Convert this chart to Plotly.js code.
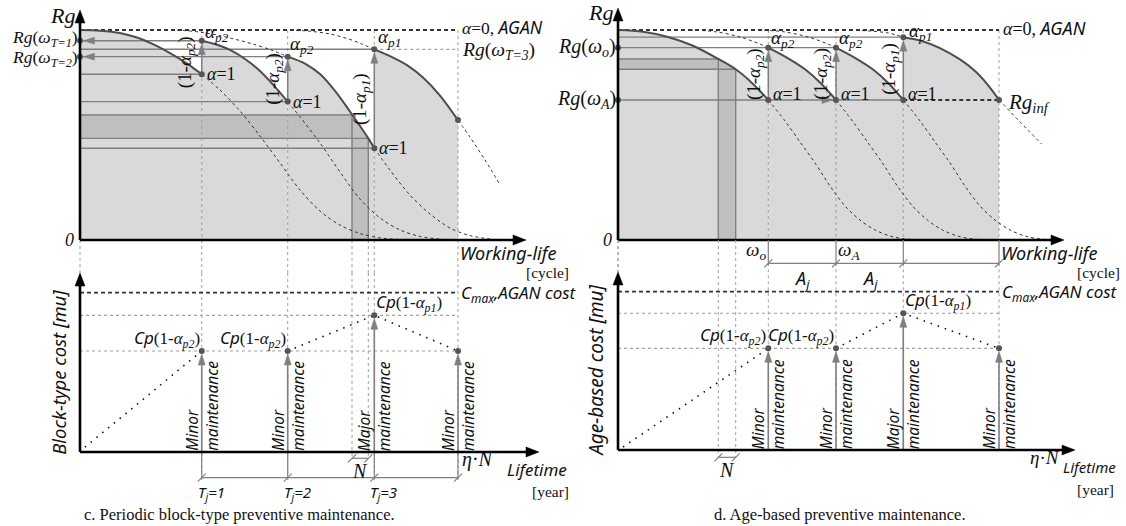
<!DOCTYPE html>
<html><head><meta charset="utf-8">
<script src="https://cdn.plot.ly/plotly-3.0.1.min.js"></script>
<style>html,body{margin:0;padding:0;background:#fff;}#chart{width:1126px;height:526px;}</style>
</head><body><div id="chart"></div>
<script>
// ================= DATA =================
// Panel c: periodic block-type.  Working-life units: 0 = origin, 100 = eta*N.  Rg: 0..1 (AGAN = 1).  Cost: 0..1 (Cmax = 1)
const cT = [32.2, 54.95, 77.86, 100];             // T_j=1, T_j=2, T_j=3, eta*N
const cKind = ['Minor', 'Minor', 'Major', 'Minor'];
const cTlabel = ['T<sub>j</sub>=1', 'T<sub>j</sub>=2', 'T<sub>j</sub>=3'];
const cN = [71.96, 76.27];
const cS1x = [0, 5.29, 10.58, 15.08, 19.31, 23.81, 28.23, 32.2];
const cS1y = [1.0, 0.997, 0.986, 0.964, 0.933, 0.890, 0.841, 0.789];
const cS2x = [32.2, 35.71, 39.68, 43.65, 47.62, 51.06, 54.95];
const cS2y = [0.949, 0.933, 0.905, 0.862, 0.805, 0.740, 0.659];
const cS3x = [54.95, 59.52, 63.49, 67.46, 71.88, 76.27, 77.86];
const cS3y = [0.873, 0.840, 0.790, 0.710, 0.600, 0.484, 0.437];
const cS4x = [77.86, 82.01, 86.51, 90.74, 95.24, 100];
const cS4y = [0.908, 0.876, 0.833, 0.774, 0.688, 0.571];
const cH3x = [25.66, 31.75, 37.04, 42.33, 45.77, 50.26, 54.95];
const cH3y = [1.0, 0.990, 0.973, 0.950, 0.933, 0.907, 0.873];
const cH4x = [55.56, 60.85, 66.14, 71.43, 74.60, 77.86];
const cH4y = [1.0, 0.994, 0.981, 0.955, 0.933, 0.908];
const cD1x = [32.2, 37.04, 42.33, 47.62, 52.91, 58.20, 63.49, 68.78, 74.07, 79.37, 84.66];
const cD1y = [0.789, 0.714, 0.614, 0.495, 0.367, 0.238, 0.138, 0.071, 0.031, 0.010, 0.002];
const cD2x = [54.95, 58.20, 63.49, 68.78, 74.07, 79.37, 84.66, 89.95, 96.56];
const cD2y = [0.659, 0.586, 0.462, 0.324, 0.195, 0.105, 0.048, 0.017, 0.002];
const cD3x = [77.86, 82.01, 87.30, 92.59, 97.88, 103.17, 109.79];
const cD3y = [0.437, 0.333, 0.214, 0.124, 0.057, 0.021, 0.002];
const cD4x = [100, 103.17, 107.14, 111.11];
const cD4y = [0.571, 0.490, 0.381, 0.262];
const cAlphaP = [0.949, 0.873, 0.908];          // Rg after maintenance at T1,T2,T3
const cAlpha1 = [0.789, 0.659, 0.437];          // Rg before maintenance at T1,T2,T3
const cRgEnd = 0.571;
const cBand = [0.484, 0.595];
const cCost = [0.634, 0.634, 0.858, 0.634];
const cCostPathAx = [1.3, 32.2], cCostPathAy = [0.03, 0.634];
const cCostPathBx = [54.95, 77.86, 100], cCostPathBy = [0.634, 0.858, 0.634];
const cLevels = [0.858, 0.634];

// Panel d: age-based
const dT = [39.45, 57.22, 74.88, 100];
const dKind = ['Minor', 'Minor', 'Major', 'Minor'];
const dN = [26.33, 30.89];
const dSAx = [0, 6.56, 13.12, 19.69, 26.33, 30.89, 35.17, 39.45];
const dSAy = [1.0, 0.992, 0.967, 0.925, 0.862, 0.813, 0.748, 0.667];
const dSBx = [39.45, 44.75, 49.08, 53.15, 57.22];
const dSBy = [0.916, 0.864, 0.813, 0.748, 0.667];
const dSCx = [57.22, 62.52, 66.85, 70.92, 74.88];
const dSCy = [0.916, 0.864, 0.813, 0.748, 0.667];
const dSDx = [74.88, 79.27, 84.51, 89.76, 93.70, 97.11, 100];
const dSDy = [0.966, 0.950, 0.914, 0.860, 0.805, 0.738, 0.667];
const dHBx = [18.90, 25.46, 32.02, 37.27, 39.45];
const dHBy = [1.0, 0.992, 0.967, 0.933, 0.916];
const dHCx = [36.75, 43.31, 49.87, 55.12, 57.22];
const dHCy = [1.0, 0.992, 0.967, 0.933, 0.916];
const dHDx = [60.89, 66.14, 70.87, 74.88];
const dHDy = [1.0, 0.995, 0.986, 0.966];
const dDAx = [39.45, 43.83, 47.77, 51.71, 55.64, 59.58, 63.52, 67.45, 71.39, 75.33, 80.58];
const dDAy = [0.667, 0.567, 0.467, 0.367, 0.257, 0.162, 0.095, 0.048, 0.019, 0.005, 0.001];
const dDBx = [57.22, 61.52, 65.46, 69.40, 73.33, 77.27, 81.21, 85.14, 89.08, 93.02, 98.27];
const dDBy = [0.667, 0.567, 0.467, 0.367, 0.257, 0.162, 0.095, 0.048, 0.019, 0.005, 0.001];
const dDCx = [74.88, 79.27, 83.20, 87.14, 91.08, 95.01, 98.95, 102.89, 106.82, 110.76, 116.01];
const dDCy = [0.667, 0.567, 0.467, 0.367, 0.257, 0.162, 0.095, 0.048, 0.019, 0.005, 0.001];
const dDDx = [100, 105.51, 111.20];
const dDDy = [0.667, 0.562, 0.457];
const dAlphaP = [0.916, 0.916, 0.966];
const dRgA = 0.667;                              // Rg(omega_A) = Rg_inf level
const dBand = [0.813, 0.862];
const dCost = [0.642, 0.642, 0.864, 0.642];
const dCostPathAx = [1.31, 39.45], dCostPathAy = [0.019, 0.642];
const dCostPathBx = [57.22, 74.88, 100], dCostPathBy = [0.642, 0.864, 0.642];
const dLevels = [0.864, 0.642];

// ================= GEOMETRY (layout only) =================
const W = 1126, H = 526;
const G = {
  cx: {p0: 80, s: 3.78}, dx: {p0: 618, s: 3.81},
  rg: {p0: 240, s: 210}, cc: {p0: 452, s: 159.3}, dc: {p0: 450, s: 158.3}
};
const xr = g => [-g.p0 / g.s, (W - g.p0) / g.s];
const yr = g => [-(H - g.p0) / g.s, g.p0 / g.s];
const yAt = (g, py) => (g.p0 - py) / g.s;
const xAt = (g, px) => (px - g.p0) / g.s;

const LIGHT = '#d9d9d9', DARK = '#bfbfbf', GRAY = '#7f7f7f', GUIDE = '#a0a0a0', CURVE = '#4d4d4d', DOT = '#555555';
const SERIF = 'Liberation Serif', SANS = 'Noto Sans';

// ================= HELPERS =================
const traces = [];
function add(t) { traces.push(Object.assign({type: 'scatter', hoverinfo: 'skip', showlegend: false}, t)); }
function segs(xa, ya, list, line) {
  const x = [], y = [];
  list.forEach(s => { x.push(...s[0], null); y.push(...s[1], null); });
  add({xaxis: xa, yaxis: ya, mode: 'lines', x, y, line});
}
function curve(xa, ya, xs, ys, line) {
  add({xaxis: xa, yaxis: ya, mode: 'lines', x: xs, y: ys, line: Object.assign({shape: 'spline', smoothing: 0.9}, line)});
}
function fillUnder(xa, ya, xs, ys, color) {
  add({xaxis: xa, yaxis: ya, mode: 'lines', x: xs, y: ys, fill: 'tozeroy', fillcolor: color,
       line: {width: 0, color: 'rgba(0,0,0,0)', shape: 'spline', smoothing: 0.9}});
}
function poly(xa, ya, xs, ys, color) {
  add({xaxis: xa, yaxis: ya, mode: 'lines', x: xs, y: ys, fill: 'toself', fillcolor: color, line: {width: 0, color}});
}
function heads(xa, ya, list, gx, gy, len, hw, color) {
  const x = [], y = [];
  list.forEach(([px, py, dir]) => {
    const L = len / gx.s, Lx = hw / gx.s, Ly = len / gy.s, Hy = hw / gy.s;
    if (dir === 'up') { x.push(px, px - Lx, px + Lx, px, null); y.push(py, py - Ly, py - Ly, py, null); }
    if (dir === 'left') { x.push(px, px + L, px + L, px, null); y.push(py, py + Hy, py - Hy, py, null); }
    if (dir === 'right') { x.push(px, px - L, px - L, px, null); y.push(py, py + Hy, py - Hy, py, null); }
  });
  add({xaxis: xa, yaxis: ya, mode: 'lines', x, y, fill: 'toself', fillcolor: color, line: {width: 0.5, color}});
}
function dots(xa, ya, xs, ys) {
  add({xaxis: xa, yaxis: ya, mode: 'markers', x: xs, y: ys, marker: {size: 6, color: DOT}});
}
function ticks(xa, ya, xs, ys) {
  add({xaxis: xa, yaxis: ya, mode: 'markers', x: xs, y: ys,
       marker: {symbol: 'line-ne', size: 8, line: {width: 1.2, color: GRAY}}});
}
function axes(xa, ya, gx, gy, yTopPx, xTipPx) {
  const yTip = yAt(gy, yTopPx), xTip = xAt(gx, xTipPx);
  segs(xa, ya, [[[0, 0], [0, yTip - 8 / gy.s]], [[0, xTip - 8 / gx.s], [0, 0]]], {color: '#000', width: 2.6});
  heads(xa, ya, [[0, yTip, 'up'], [xTip, 0, 'right']], gx, gy, 13, 5, '#000');
}
const anns = [];
function A(text, xref, yref, x, y, o) {
  const f = Object.assign({family: SERIF, size: 16, color: '#111'}, (o && o.font) || {});
  const a = Object.assign({text, xref, yref, x, y, showarrow: false, borderpad: 0, xanchor: 'center', yanchor: 'middle'}, o || {});
  a.font = f;
  anns.push(a);
}
const sans = t => `<span style="font-family:${SANS};font-style:italic">${t}</span>`;
const alpha = s => `<i>α<sub>${s}</sub></i>`;

// common bottom-right labels of a cost panel
function costLabels(xa, ya, gy, end, o) {
  A(sans('Working-life'), xa, ya, end, yAt(gy, 253), {xanchor: 'left', xshift: 1, font: {size: 18}});
  A('[cycle]', xa, ya, end, yAt(gy, 272.5), {xanchor: 'right', xshift: o.cycleR, font: {size: 15.5}});
  A(sans('C<sub>max</sub>,AGAN cost'), xa, ya, end, 1, {xanchor: 'left', xshift: 2, yshift: -1, font: {size: 17}});
  A('<i>η</i>·<i>N</i>', xa, ya, end, 0, {xanchor: 'left', xshift: o.etaX, yshift: -7, font: {size: o.etaSize}});
  A(sans('Lifetime'), xa, ya, end, 0, {xanchor: 'right', xshift: o.lifeR, yshift: -17, font: {size: o.lifeSize}});
  A('[year]', xa, ya, end, 0, {xanchor: 'right', xshift: o.yearR, yshift: -39, font: {size: 15.5}});
}

// ================= PANEL c — TOP =================
(function () {
  const xa = 'x', ya = 'y', gx = G.cx, gy = G.rg;
  [[cS1x, cS1y], [cS2x, cS2y], [cS3x, cS3y], [cS4x, cS4y]].forEach(s => fillUnder(xa, ya, s[0], s[1], LIGHT));
  poly(xa, ya, [0, cN[0], cN[0], 0], [cBand[0], cBand[0], cBand[1], cBand[1]], DARK);
  poly(xa, ya, [cN[0], cN[0], cN[1], cN[1]], [0, cBand[1], cBand[0], 0], DARK);
  const gapBottom = yAt(gy, 273);
  segs(xa, ya, cT.map(t => [[t, t], [1, gapBottom]]).concat(cN.map(t => [[t, t], [0, gapBottom]])).concat([[[0, 0], [0, gapBottom]]]),
       {color: GUIDE, width: 1, dash: 'dot'});
  segs(xa, ya, [
    [[0, cT[2]], [cAlphaP[2], cAlphaP[2]]],
    [[0, cT[0]], [cAlpha1[0], cAlpha1[0]]],
    [[0, cT[1]], [cAlpha1[1], cAlpha1[1]]],
    [[0, cN[0]], [cBand[1], cBand[1]]],
    [[0, cN[1]], [cBand[0], cBand[0]]],
    [[0, cT[2]], [cAlpha1[2], cAlpha1[2]]],
    [[cN[0], cN[0]], [0, cBand[1]]],
    [[cN[1], cN[1]], [0, cBand[0]]],
    [[0.6, cT[0]], [cAlphaP[0], cAlphaP[0]]],
    [[0.6, cT[1]], [cAlphaP[1], cAlphaP[1]]]
  ], {color: GRAY, width: 1.4});
  segs(xa, ya, [[[cT[2], cT[3]], [cAlphaP[2], cAlphaP[2]]]], {color: GUIDE, width: 1.2, dash: 'dot'});
  segs(xa, ya, [[[0, cT[3]], [1, 1]]], {color: '#333', width: 1.8, dash: '4px,3px'});
  [[cH3x, cH3y], [cH4x, cH4y], [cD1x, cD1y], [cD2x, cD2y], [cD3x, cD3y], [cD4x, cD4y]].forEach(s =>
    curve(xa, ya, s[0], s[1], {color: '#333', width: 1, dash: 'dot'}));
  [[cS1x, cS1y], [cS2x, cS2y], [cS3x, cS3y], [cS4x, cS4y]].forEach(s =>
    curve(xa, ya, s[0], s[1], {color: CURVE, width: 2}));
  segs(xa, ya, [0, 1, 2].map(i => [[cT[i], cT[i]], [cAlpha1[i], cAlphaP[i] - 8 / gy.s]]), {color: GRAY, width: 1.5});
  heads(xa, ya, [0, 1, 2].map(i => [cT[i], cAlphaP[i] - 3 / gy.s, 'up'])
    .concat([[3.5 / gx.s, cAlphaP[0], 'left'], [3.5 / gx.s, cAlphaP[1], 'left']]), gx, gy, 11, 3.5, GRAY);
  dots(xa, ya, [0, 0].concat(cT.slice(0, 3), cT.slice(0, 3), [cT[3]]),
       [cAlphaP[0], cAlphaP[1]].concat(cAlphaP, cAlpha1, [cRgEnd]));
  axes(xa, ya, gx, gy, 10, 526);
  A('<i>Rg</i>', xa, ya, 0, yAt(gy, 15), {xanchor: 'right', xshift: -4, font: {size: 22}});
  A('<i>Rg</i>(<i>ω<sub>T=1</sub></i>)', xa, ya, 0, cAlphaP[0], {xanchor: 'right', xshift: -1, yshift: 2, font: {size: 17.5}});
  A('<i>Rg</i>(<i>ω<sub>T=2</sub></i>)', xa, ya, 0, cAlphaP[1], {xanchor: 'right', xshift: -1, yshift: -2, font: {size: 17.5}});
  A('<i>0</i>', xa, ya, 0, 0, {xanchor: 'right', xshift: -5, font: {size: 18}});
  const ashift = [[2, 8], [1, 12], [3, 11]];
  ['p2', 'p2', 'p1'].forEach((s, i) => A(alpha(s), xa, ya, cT[i], cAlphaP[i], {xanchor: 'left', xshift: ashift[i][0], yshift: ashift[i][1], font: {size: 19}}));
  [0, 1, 2].forEach(i => A('<i>α</i>=1', xa, ya, cT[i], cAlpha1[i], {xanchor: 'left', xshift: 4, font: {size: 18}}));
  ['p2', 'p2', 'p1'].forEach((s, i) => A('(1-' + alpha(s) + ')', xa, ya, cT[i], (cAlpha1[i] + cAlphaP[i]) / 2,
    {textangle: -90, xanchor: 'right', xshift: i === 0 ? -3 : -1, yshift: i === 0 ? -5 : 0, font: {size: 19}}));
  A('<i>α</i>=0, ' + sans('AGAN'), xa, ya, cT[3], 1, {xanchor: 'left', xshift: 3, yshift: 3, font: {size: 17.5}});
  A('<i>Rg</i>(<i>ω<sub>T=3</sub></i>)', xa, ya, cT[3], cAlphaP[2], {xanchor: 'left', xshift: 3, yshift: -2, font: {size: 19.5}});
})();

// ================= PANEL c — BOTTOM =================
(function () {
  const xa = 'x', ya = 'y2', gx = G.cx, gy = G.cc;
  const top = yAt(gy, 273), dimY = yAt(gy, 477.7), nDimY = yAt(gy, 458.3);
  segs(xa, ya, cT.map(t => [[t, t], [top, dimY]]).concat(cN.map(t => [[t, t], [top, nDimY]])), {color: GUIDE, width: 1, dash: 'dot'});
  segs(xa, ya, cLevels.map(l => [[0, cT[3]], [l, l]]), {color: GUIDE, width: 1.2, dash: 'dot'});
  segs(xa, ya, [[[0, cT[3]], [1, 1]]], {color: '#333', width: 1.8, dash: '4px,3px'});
  segs(xa, ya, cT.map(t => [[t, t], [0, dimY - 2 / gy.s]]).concat([[[cT[0], cT[3]], [dimY, dimY]], [[cN[0], cN[1]], [nDimY, nDimY]]]),
       {color: GRAY, width: 1.2});
  ticks(xa, ya, cT.concat(cN), cT.map(() => dimY).concat(cN.map(() => nDimY)));
  curve(xa, ya, cCostPathAx, cCostPathAy, {color: '#111', width: 1.6, dash: '1.5px,6px', shape: 'linear'});
  curve(xa, ya, cCostPathBx, cCostPathBy, {color: '#111', width: 1.6, dash: '1.5px,6px', shape: 'linear'});
  segs(xa, ya, cT.map((t, i) => [[t, t], [0, cCost[i] - 8 / gy.s]]), {color: GRAY, width: 1.6});
  heads(xa, ya, cT.map((t, i) => [t, cCost[i] - 3 / gy.s, 'up']), gx, gy, 11, 3.5, GRAY);
  dots(xa, ya, cT, cCost);
  axes(xa, ya, gx, gy, 273, 539);
  costLabels(xa, ya, gy, cT[3], {cycleR: 112, etaX: 3, etaSize: 20, lifeR: 110, lifeSize: 17, yearR: 112});
  A(sans('Cp') + '(1-' + alpha('p1') + ')', xa, ya, cT[2], cCost[2], {xanchor: 'left', yanchor: 'bottom', xshift: 1, yshift: -1, font: {size: 17}});
  [0, 1].forEach(i => A(sans('Cp') + '(1-' + alpha('p2') + ')', xa, ya, cT[i], cCost[i], {xanchor: 'right', yanchor: 'bottom', xshift: -1, yshift: -1, font: {size: 17}}));
  cT.forEach((t, i) => A(sans(cKind[i] + '<br>maintenance'), xa, ya, t, 0, {textangle: -90, yanchor: 'bottom', align: 'left', font: {size: 15.5}}));
  cTlabel.forEach((s, i) => A(sans(s), xa, ya, cT[i], dimY, {xanchor: 'left', yanchor: 'top', xshift: -5, yshift: -3, font: {size: 15}}));
  A('<i>N</i>', xa, ya, (cN[0] + cN[1]) / 2, nDimY, {yanchor: 'top', yshift: -1, font: {size: 20}});
  A(sans('Block-type cost [mu]'), xa, ya, 0, 0.5, {textangle: -90, xanchor: 'right', xshift: -8, font: {size: 18.5}});
})();

// ================= PANEL d — TOP =================
(function () {
  const xa = 'x2', ya = 'y3', gx = G.dx, gy = G.rg;
  [[dSAx, dSAy], [dSBx, dSBy], [dSCx, dSCy], [dSDx, dSDy]].forEach(s => fillUnder(xa, ya, s[0], s[1], LIGHT));
  poly(xa, ya, [0, dN[0], dN[0], 0], [dBand[0], dBand[0], dBand[1], dBand[1]], DARK);
  poly(xa, ya, [dN[0], dN[0], dN[1], dN[1]], [0, dBand[1], dBand[0], 0], DARK);
  segs(xa, ya, dT.map(t => [[t, t], [1, 0]]).concat([[[0, 0], [0, yAt(gy, 272)]]]), {color: GUIDE, width: 1, dash: 'dot'});
  segs(xa, ya, [
    [[0, dT[2]], [dAlphaP[2], dAlphaP[2]]],
    [[0, dT[1]], [dAlphaP[0], dAlphaP[0]]],
    [[0, dN[0]], [dBand[1], dBand[1]]],
    [[0, dN[1]], [dBand[0], dBand[0]]],
    [[0, dT[2]], [dRgA, dRgA]],
    [[dN[0], dN[0]], [0, dBand[1]]],
    [[dN[1], dN[1]], [0, dBand[0]]]
  ], {color: GRAY, width: 1.4});
  segs(xa, ya, [[[dT[2], dT[3]], [dRgA, dRgA]]], {color: '#333', width: 1.9, dash: '4px,3px'});
  segs(xa, ya, [[[0, dT[3]], [1, 1]]], {color: '#333', width: 1.8, dash: '4px,3px'});
  [[dHBx, dHBy], [dHCx, dHCy], [dHDx, dHDy], [dDAx, dDAy], [dDBx, dDBy], [dDCx, dDCy], [dDDx, dDDy]].forEach(s =>
    curve(xa, ya, s[0], s[1], {color: '#333', width: 1, dash: 'dot'}));
  [[dSAx, dSAy], [dSBx, dSBy], [dSCx, dSCy], [dSDx, dSDy]].forEach(s =>
    curve(xa, ya, s[0], s[1], {color: CURVE, width: 2}));
  segs(xa, ya, [0, 1, 2].map(i => [[dT[i], dT[i]], [dRgA, dAlphaP[i] - 8 / gy.s]]), {color: GRAY, width: 1.5});
  heads(xa, ya, [0, 1, 2].map(i => [dT[i], dAlphaP[i] - 3 / gy.s, 'up']).concat([[dT[1] - 3 / gx.s, dRgA, 'right']]), gx, gy, 11, 3.5, GRAY);
  dots(xa, ya, [0, 0].concat(dT.slice(0, 3), dT.slice(0, 3), [dT[3]]),
       [dAlphaP[0], dRgA].concat(dAlphaP, [dRgA, dRgA, dRgA, dRgA]));
  axes(xa, ya, gx, gy, 8, 1064);
  A('<i>Rg</i>', xa, ya, 0, yAt(gy, 12), {xanchor: 'right', xshift: -4, font: {size: 22}});
  A('<i>Rg</i>(<i>ω<sub>o</sub></i>)', xa, ya, 0, dAlphaP[0], {xanchor: 'right', xshift: -1, font: {size: 20}});
  A('<i>Rg</i>(<i>ω<sub>A</sub></i>)', xa, ya, 0, dRgA, {xanchor: 'right', xshift: -1, font: {size: 20}});
  A('<i>0</i>', xa, ya, 0, 0, {xanchor: 'right', xshift: -5, font: {size: 18}});
  ['p2', 'p2', 'p1'].forEach((s, i) => A(alpha(s), xa, ya, dT[i], dAlphaP[i], {xanchor: 'left', xshift: i === 2 ? 5 : 2, yshift: i === 2 ? 5 : 9, font: {size: 19}}));
  [0, 1, 2].forEach(i => A('<i>α</i>=1', xa, ya, dT[i], dRgA, {xanchor: 'left', xshift: 4, yshift: 6, font: {size: 18}}));
  ['p2', 'p2', 'p1'].forEach((s, i) => A('(1-' + alpha(s) + ')', xa, ya, dT[i], (dRgA + dAlphaP[i]) / 2,
    {textangle: -90, xanchor: 'right', xshift: -1, font: {size: 19}}));
  A('<i>α</i>=0, ' + sans('AGAN'), xa, ya, dT[3], 1, {xanchor: 'left', xshift: 3, yshift: 2, font: {size: 18}});
  A('<i>Rg<sub>inf</sub></i>', xa, ya, dT[3], dRgA, {xanchor: 'left', xshift: 8, yshift: -3, font: {size: 21}});
})();

// ================= PANEL d — BOTTOM =================
(function () {
  const xa = 'x2', ya = 'y4', gx = G.dx, gy = G.dc;
  const top = yAt(gy, 240), dimY = yAt(gy, 263.3), nDimY = yAt(gy, 457.3);
  segs(xa, ya, dT.map(t => [[t, t], [dimY, 0]]).concat(dN.map(t => [[t, t], [top, nDimY]])).concat([[[0, 0], [top, yAt(gy, 272)]]]),
       {color: GUIDE, width: 1, dash: 'dot'});
  segs(xa, ya, dLevels.map(l => [[0, dT[3]], [l, l]]), {color: GUIDE, width: 1.2, dash: 'dot'});
  segs(xa, ya, [[[0, dT[3]], [1, 1]]], {color: '#333', width: 1.8, dash: '4px,3px'});
  segs(xa, ya, dT.map(t => [[t, t], [top, dimY - 2 / gy.s]]).concat([[[dT[0], dT[3]], [dimY, dimY]], [[dN[0], dN[1]], [nDimY, nDimY]]]),
       {color: GRAY, width: 1.2});
  ticks(xa, ya, dT.concat(dN), dT.map(() => dimY).concat(dN.map(() => nDimY)));
  curve(xa, ya, dCostPathAx, dCostPathAy, {color: '#111', width: 1.6, dash: '1.5px,6px', shape: 'linear'});
  curve(xa, ya, dCostPathBx, dCostPathBy, {color: '#111', width: 1.6, dash: '1.5px,6px', shape: 'linear'});
  segs(xa, ya, dT.map((t, i) => [[t, t], [0, dCost[i] - 8 / gy.s]]), {color: GRAY, width: 1.6});
  heads(xa, ya, dT.map((t, i) => [t, dCost[i] - 3 / gy.s, 'up']), gx, gy, 11, 3.5, GRAY);
  dots(xa, ya, dT, dCost);
  axes(xa, ya, gx, gy, 272, 1075);
  A('<i>ω<sub>o</sub></i>', xa, ya, dT[0], dimY, {xanchor: 'right', yanchor: 'bottom', xshift: -1, yshift: -1, font: {size: 19}});
  A('<i>ω<sub>A</sub></i>', xa, ya, dT[1], dimY, {xanchor: 'left', yanchor: 'bottom', xshift: 1, yshift: -1, font: {size: 19}});
  [0, 1].forEach(i => A(sans('A<sub>j</sub>'), xa, ya, (dT[i] + dT[i + 1]) / 2, dimY, {yanchor: 'top', yshift: -2, font: {size: 18}}));
  costLabels(xa, ya, gy, dT[3], {cycleR: 122, etaX: 30, etaSize: 19, lifeR: 118, lifeSize: 15, yearR: 116});
  A(sans('Cp') + '(1-' + alpha('p1') + ')', xa, ya, dT[2], dCost[2], {xanchor: 'left', yanchor: 'bottom', xshift: 1, yshift: -1, font: {size: 17}});
  [0, 1].forEach(i => A(sans('Cp') + '(1-' + alpha('p2') + ')', xa, ya, dT[i], dCost[i], {xanchor: 'right', yanchor: 'bottom', xshift: -1, yshift: -1, font: {size: 17}}));
  dT.forEach((t, i) => A(sans(dKind[i] + '<br>maintenance'), xa, ya, t, 0, {textangle: -90, yanchor: 'bottom', align: 'left', font: {size: 15.5}}));
  A('<i>N</i>', xa, ya, (dN[0] + dN[1]) / 2, nDimY, {yanchor: 'top', yshift: -1, font: {size: 20}});
  A(sans('Age-based cost [mu]'), xa, ya, 0, 0.5, {textangle: -90, xanchor: 'right', xshift: -8, font: {size: 19}});
})();

A('c. Periodic block-type preventive maintenance.', 'paper', 'paper', 240 / W, (H - 514) / H, {font: {size: 16.5}});
A('d. Age-based preventive maintenance.', 'paper', 'paper', 840 / W, (H - 514) / H, {font: {size: 16.5}});

const ax = (range, extra) => Object.assign({range, domain: [0, 1], visible: false, fixedrange: true}, extra || {});
const layout = {
  width: W, height: H, margin: {l: 0, r: 0, t: 0, b: 0},
  paper_bgcolor: '#fff', plot_bgcolor: 'rgba(0,0,0,0)', showlegend: false,
  xaxis: ax(xr(G.cx)), xaxis2: ax(xr(G.dx), {overlaying: 'x'}),
  yaxis: ax(yr(G.rg)), yaxis2: ax(yr(G.cc), {overlaying: 'y'}),
  yaxis3: ax(yr(G.rg), {overlaying: 'y'}), yaxis4: ax(yr(G.dc), {overlaying: 'y'}),
  annotations: anns
};
Plotly.newPlot('chart', traces, layout, {staticPlot: true, displayModeBar: false});
</script></body></html>
